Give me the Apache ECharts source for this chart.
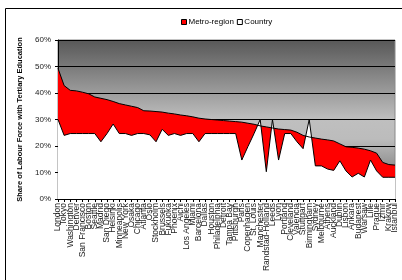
<!DOCTYPE html>
<html>
	<head>
		<meta charset="UTF-8">
		<title></title>
		<script src="https://cdn.jsdelivr.net/npm/echarts@6/dist/echarts.min.js"></script>
		<style type="text/css">
			html, body { margin: 0; padding: 0; background: #fff; }
		</style>
	</head>
	<body>
		<div id="box" style="width:402px;height:280px;"></div>

		<script type="text/javascript">
			var cities = ['London', 'Tokyo', 'Washington', 'Denver', 'San Francisco', 'Boston', 'Seattle', 'Madrid',
				'San Diego', 'Helsinki', 'Minneapolis', 'New York', 'Osaka', 'Chicago', 'Atlanta', 'Oslo',
				'Stockholm', 'Brussels', 'Fukuoka', 'Phoenix', 'Aichi', 'Los Angeles', 'Miami', 'Barcelona',
				'Dallas', 'Houston', 'Philadelphia', 'Detroit', 'Tampa Bay', 'Pittsburgh', 'Paris', 'Copenhagen',
				'St. Louis', 'Manchester', 'Randstad-Holland', 'Leeds', 'Lyon', 'Portland', 'Cleveland', 'Valencia',
				'Stuttgart', 'Birmingham', 'Sydney', 'Melbourne', 'Athens', 'Auckland', 'Dublin', 'Lisbon',
				'Ankara', 'Budapest', 'Warsaw', 'Lille', 'Prague', 'Izmir', 'Krakow', 'Istanbul'];

			// share of labour force with tertiary education, %
			var metro = [49.3, 42.8, 41.0, 40.8, 40.3, 39.7, 38.5, 38.0, 37.5, 36.8,
				36.0, 35.5, 35.0, 34.5, 33.3, 33.2, 33.0, 32.8, 32.4, 32.1,
				31.7, 31.4, 31.0, 30.5, 30.2, 30.0, 29.8, 29.6, 29.4, 29.2,
				29.0, 28.6, 28.2, 27.6, 27.2, 26.8, 26.4, 26.2, 26.0, 25.2,
				24.0, 23.4, 23.0, 22.6, 22.3, 21.9, 20.8, 19.7, 19.5, 19.2,
				18.8, 18.2, 17.3, 13.8, 13.0, 12.8];
			var country = [30.0, 24.0, 24.7, 24.7, 24.7, 24.7, 24.7, 21.6, 24.7, 28.3,
				24.7, 24.7, 24.0, 24.7, 24.7, 24.2, 21.6, 26.3, 24.0, 24.7,
				24.0, 24.7, 24.7, 21.6, 24.7, 24.7, 24.7, 24.7, 24.7, 24.7,
				14.7, 19.8, 24.7, 30.0, 10.3, 30.0, 14.7, 24.7, 24.7, 21.6,
				19.0, 30.0, 12.5, 12.5, 11.3, 10.8, 14.4, 10.6, 8.3, 9.7,
				8.3, 14.7, 10.6, 8.2, 8.2, 8.2];
			var yTicks = [0, 10, 20, 30, 40, 50, 60];

			var font = "'Liberation Sans', Arial, sans-serif";
			var myChart = echarts.init(document.getElementById('box'));

			var option = {
				animation: false,
				textStyle: { fontFamily: font },
				graphic: [{
					type: 'rect',
					shape: { x: 5.5, y: 8.5, width: 420, height: 300 },
					style: { fill: 'none', stroke: '#000', lineWidth: 1 },
					silent: true
				}],
				legend: {
					left: 176,
					top: 13,
					itemWidth: 5,
					itemHeight: 5,
					itemGap: 3,
					textStyle: { fontSize: 8, color: '#000', fontFamily: font, padding: [0, 0, 0, -3] },
					data: [
						{ name: 'Metro-region', icon: 'rect', itemStyle: { color: '#ff0000', borderColor: '#000', borderWidth: 1 } },
						{ name: 'Country', icon: 'rect', itemStyle: { color: '#fff', borderColor: '#000', borderWidth: 1 } }
					]
				},
				grid: {
					left: 58,
					right: 7,
					top: 40,
					bottom: 81,
					outerBoundsMode: 'none',
					show: true,
					borderColor: '#888',
					borderWidth: 1,
					backgroundColor: {
						type: 'linear', x: 0, y: 0, x2: 0, y2: 1,
						colorStops: [
							{ offset: 0, color: '#575757' },
							{ offset: 0.5, color: '#bfbfbf' },
							{ offset: 0.62, color: '#bcbcbc' },
							{ offset: 0.8, color: '#909090' },
							{ offset: 1, color: '#666666' }
						]
					}
				},
				xAxis: {
					type: 'category',
					boundaryGap: false,
					data: cities,
					axisLine: { lineStyle: { color: '#000', width: 1 } },
					axisTick: { interval: 0, length: 3, lineStyle: { color: '#000' } },
					axisLabel: { interval: 0, rotate: 90, fontSize: 8.5, color: '#222', margin: 4, fontFamily: font },
					splitLine: { show: false }
				},
				yAxis: {
					type: 'value',
					min: yTicks[0],
					max: yTicks[yTicks.length - 1],
					interval: 10,
					name: 'Share of Labour Force with Tertiary Education',
					nameLocation: 'middle',
					nameGap: 28,
					nameTextStyle: { fontSize: 7.5, fontWeight: 'bold', color: '#000', fontFamily: font },
					axisLine: { show: true, lineStyle: { color: '#000', width: 1 } },
					axisTick: { show: true, length: 3, lineStyle: { color: '#000' } },
					axisLabel: { formatter: '{value}%', fontSize: 8, color: '#222', margin: 7, fontFamily: font },
					splitLine: { show: true, lineStyle: { color: '#000', width: 1 } }
				},
				series: [{
					name: 'Metro-region',
					type: 'line',
					data: metro,
					symbol: 'none',
					itemStyle: { color: '#ff0000' },
					lineStyle: { color: '#000', width: 1 },
					areaStyle: { color: '#ff0000', opacity: 1 }
				}, {
					name: 'Country',
					type: 'line',
					data: country,
					symbol: 'none',
					itemStyle: { color: '#fff' },
					lineStyle: { color: '#000', width: 1 },
					areaStyle: { color: '#fff', opacity: 1 }
				}]
			};
			myChart.setOption(option);
		</script>
	</body>
</html>
